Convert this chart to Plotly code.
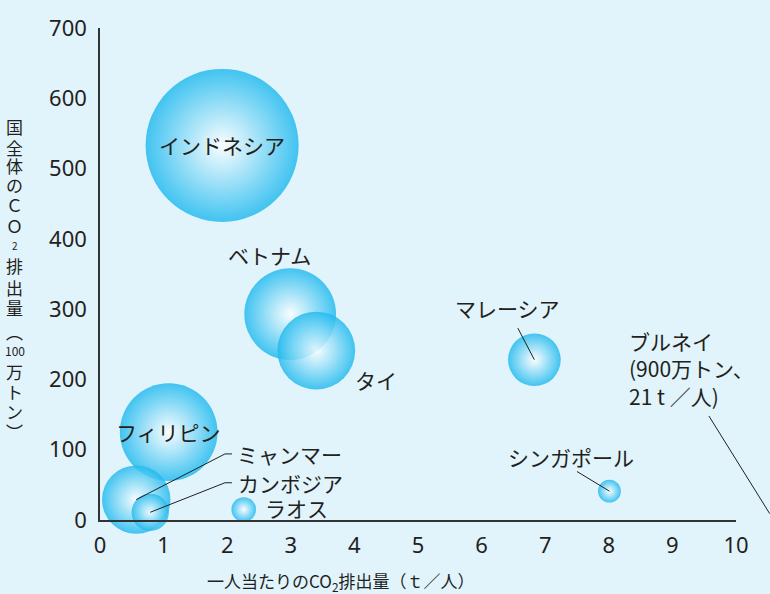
import plotly.graph_objects as go

# ASEAN countries: CO2 per capita (t/person), total CO2 (million t), population (millions)
countries = ["インドネシア", "ベトナム", "タイ", "フィリピン", "ミャンマー",
             "カンボジア", "ラオス", "マレーシア", "シンガポール", "ブルネイ"]
per_capita = [1.92, 2.99, 3.40, 1.08, 0.57, 0.79, 2.26, 6.83, 8.01, 21.0]
total_co2 = [533, 293, 241, 125, 29, 11, 15, 228, 41, 9]
population = [270, 97, 70, 110, 54, 16, 7, 32, 6, 0.43]

x_ticks = [0, 1, 2, 3, 4, 5, 6, 7, 8, 9, 10]
y_ticks = [0, 100, 200, 300, 400, 500, 600, 700]

X_MAX = 10
X_EDGE = 10.53  # off-scale values are pinned at the right edge

FONT = "Noto Sans CJK JP"
TICK_FONT = "Noto Sans"
TEXT = "#231f20"
BG = "#e1f3fb"
BUBBLE = "rgb(30,185,238)"

disp_x = [min(v, X_EDGE) for v in per_capita]

MAX_DIAM = 153
sizeref = 2 * max(population) / (MAX_DIAM ** 2)

fig = go.Figure()
fig.add_trace(go.Scatter(
    x=disp_x, y=total_co2, mode="markers",
    marker=dict(size=population, sizemode="area", sizeref=sizeref,
                color=BUBBLE, opacity=0.82, line=dict(width=0),
                gradient=dict(type="radial", color="white")),
    cliponaxis=False, hoverinfo="skip", showlegend=False,
))

# label placement: (text x, text y, xanchor)
label_pos = {
    "インドネシア": (None, None, "center"),
    "ベトナム": (2.67, 377, "center"),
    "タイ": (4.34, 199, "center"),
    "フィリピン": (None, None, "center"),
    "ミャンマー": (2.13, 94, "left"),
    "カンボジア": (2.14, 53, "left"),
    "ラオス": (2.56, 17, "left"),
    "マレーシア": (6.40, 302, "center"),
    "シンガポール": (7.41, 90, "center"),
    "ブルネイ": (8.28, 215, "left"),
}
label_text = {
    "ブルネイ": "ブルネイ<br>(900万トン、<br>21 t ／人)",
}

# leader lines: intermediate points from the bubble centre to the label
leaders = {
    "ミャンマー": [(1.965, 94), (2.075, 94)],
    "カンボジア": [(1.965, 53), (2.075, 53)],
    "マレーシア": [(6.57, 273)],
    "シンガポール": [(7.50, 69)],
    "ブルネイ": [(9.56, 150)],
}

annotations = []
for name, cx, cy in zip(countries, disp_x, total_co2):
    tx, ty, anchor = label_pos[name]
    if tx is None:
        tx, ty = cx, cy
    annotations.append(dict(
        x=tx, y=ty, xref="x", yref="y", text=label_text.get(name, name),
        showarrow=False, xanchor=anchor, yanchor="middle", align="left",
        font=dict(family=FONT, size=21, color=TEXT),
    ))

shapes = []
for name, cx, cy, raw_x in zip(countries, disp_x, total_co2, per_capita):
    if name not in leaders:
        continue
    pts = [(cx, cy)] + leaders[name]
    if raw_x > X_MAX:
        # off-scale point: an annotation arrow is not clipped by the plot area
        (x1, y1) = pts[1]
        annotations.append(dict(
            x=cx, y=cy, ax=x1, ay=y1, xref="x", yref="y",
            axref="x", ayref="y", text="", showarrow=True,
            arrowhead=0, arrowwidth=1, arrowcolor=TEXT, standoff=0,
        ))
        continue
    path = "M " + " L ".join(f"{px},{py}" for px, py in pts)
    shapes.append(dict(type="path", path=path, xref="x", yref="y",
                       line=dict(color=TEXT, width=1)))

# vertical y-axis title: glyph, font size, paper y of its centre
v_title = [("国", 17, 0.800), ("全", 17, 0.758), ("体", 17, 0.721),
           ("の", 17, 0.681), ("Ｃ", 17, 0.641), ("Ｏ", 17, 0.599),
           ("2", 10, 0.557), ("排", 17, 0.517), ("出", 17, 0.473),
           ("量", 17, 0.431), ("︵", 17, 0.383), ("100", 12, 0.345),
           ("万", 17, 0.301), ("ト", 17, 0.261), ("ン", 17, 0.220),
           ("︶", 17, 0.180)]
for glyph, size, py in v_title:
    annotations.append(dict(
        x=-0.134, y=py, xref="paper", yref="paper", text=glyph,
        showarrow=False, xanchor="center", yanchor="middle",
        font=dict(family=FONT, size=size, color=TEXT),
    ))

annotations.append(dict(
    x=0.379, y=-0.124, xref="paper", yref="paper",
    text="一人当たりのCO<sub>2</sub>排出量（ｔ／人）",
    showarrow=False, xanchor="center", yanchor="middle",
    font=dict(family=FONT, size=17, color=TEXT),
))

axis_common = dict(showgrid=False, zeroline=False, showline=True,
                   linecolor="#333333", linewidth=1.5, ticks="",
                   tickfont=dict(family=TICK_FONT, size=22, color=TEXT))

fig.update_layout(
    width=770, height=594,
    margin=dict(l=100, r=34, t=21, b=74),
    paper_bgcolor=BG, plot_bgcolor=BG,
    xaxis=dict(range=[0, X_MAX], tickvals=x_ticks, ticklabelstandoff=5,
               **axis_common),
    yaxis=dict(range=[0, 700], tickvals=y_ticks, ticklabelstandoff=7,
               **axis_common),
    annotations=annotations,
    shapes=shapes,
    font=dict(family=FONT),
)

fig.write_html("out.html")
